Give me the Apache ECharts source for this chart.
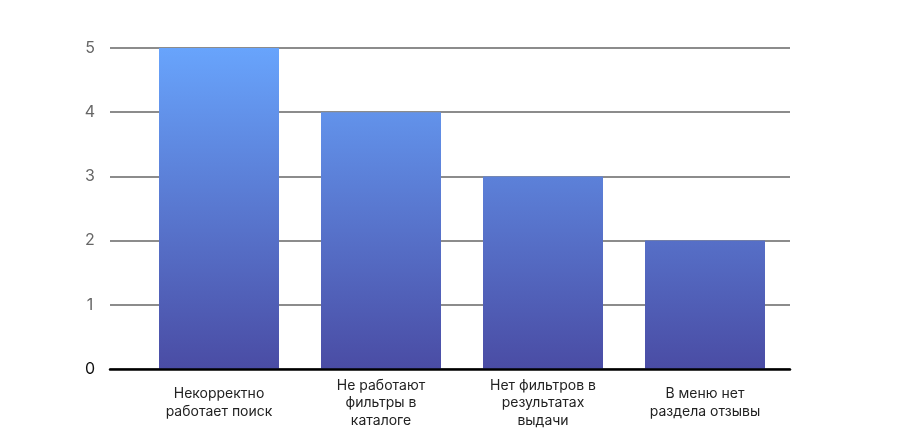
<!DOCTYPE html>
<html>
<head>
<meta charset="utf-8">
<script src="https://cdn.jsdelivr.net/npm/echarts@6/dist/echarts.min.js"></script>
<style>
  html, body { margin: 0; padding: 0; background: #fff; }
  #chart { width: 900px; height: 435px; }
</style>
</head>
<body>
<div id="chart"></div>
<script>
// Issues reported by users
const categories = [
  'Некорректно\nработает поиск',
  'Не работают\nфильтры в\nкаталоге',
  'Нет фильтров в\nрезультатах\nвыдачи',
  'В меню нет\nраздела отзывы'
];
const counts = [5, 4, 3, 2];
const yMin = 0;
const yMax = 5;
const yStep = 1;

(function(){
  const el = document.getElementById('chart');
  const chart = echarts.init(el);
  const font = 'Inter, "Noto Sans", sans-serif';

  chart.setOption({
    backgroundColor: '#fff',
    animation: false,
    textStyle: { fontFamily: font },
    grid: [
      // wide grid: gridlines, y labels and base line
      { left: 110, right: 110, top: 48, bottom: 66 },
      // bars
      { left: 138, right: 114, top: 48, bottom: 66 }
    ],
    xAxis: [
      {
        gridIndex: 0, type: 'value', min: 0, max: 1, z: 5,
        axisLine: { show: true, lineStyle: { color: '#000', width: 2.5 } },
        axisTick: { show: false }, axisLabel: { show: false }, splitLine: { show: false }
      },
      {
        gridIndex: 1, type: 'category', data: categories,
        axisLine: { show: false }, axisTick: { show: false },
        axisLabel: {
          interval: 0, margin: 34, verticalAlign: 'middle', align: 'center',
          color: '#222', fontSize: 14, lineHeight: 17.5, fontFamily: font
        }
      }
    ],
    yAxis: [
      {
        gridIndex: 0, type: 'value', min: yMin, max: yMax, interval: yStep,
        axisLine: { show: false }, axisTick: { show: false },
        axisLabel: {
          margin: 20, align: 'center', fontSize: 16, fontFamily: font,
          color: (v) => Number(v) === 0 ? '#111' : '#666'
        },
        splitLine: { lineStyle: { color: '#666', width: 1.5 } }
      },
      { gridIndex: 1, type: 'value', min: yMin, max: yMax, show: false }
    ],
    series: [{
      type: 'bar',
      xAxisIndex: 1, yAxisIndex: 1,
      data: counts,
      barWidth: 120,
      itemStyle: {
        color: {
          type: 'linear', x: 0, y: 48, x2: 0, y2: 369, global: true,
          colorStops: [
            { offset: 0, color: '#68a4fc' },
            { offset: 1, color: '#4a4ca4' }
          ]
        }
      }
    }]
  });
})();
</script>
</body>
</html>
